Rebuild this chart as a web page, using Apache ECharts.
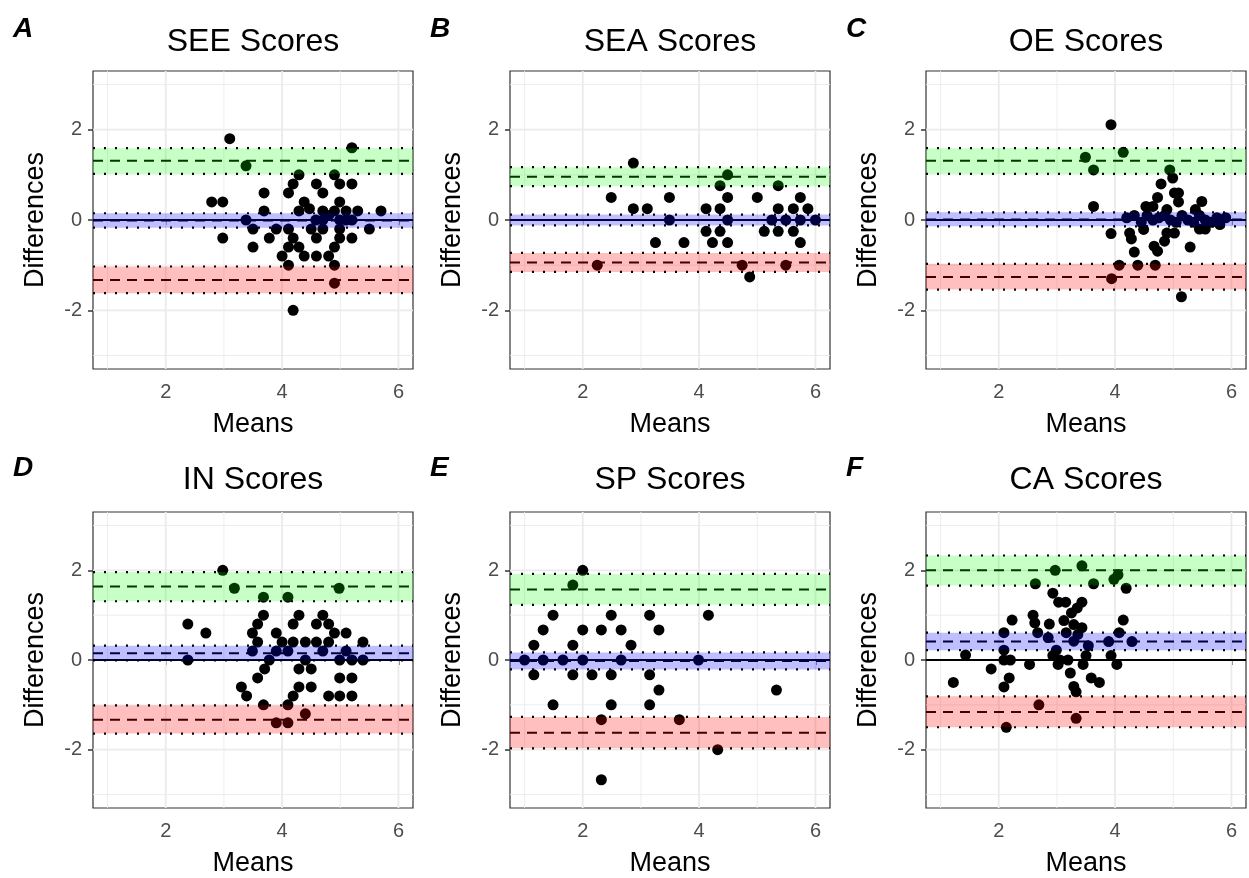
<!DOCTYPE html>
<html>
<head>
<meta charset="utf-8">
<title>Bland-Altman plots</title>
<script src="https://cdn.jsdelivr.net/npm/echarts@6/dist/echarts.min.js"></script>
<style>
  html, body { margin: 0; padding: 0; background: #fff; }
  #chart { width: 1249px; height: 878px; }
</style>
</head>
<body>
<div id="chart"></div>
<script>
// ---- data ----
const panelTitles = ['SEE Scores', 'SEA Scores', 'OE Scores', 'IN Scores', 'SP Scores', 'CA Scores'];
const panelLetters = ['A', 'B', 'C', 'D', 'E', 'F'];
const xTicks = [2, 4, 6];
const yTicks = [-2, 0, 2];
const xGridVals = [1, 2, 3, 4, 5, 6];
const yGridVals = [-3, -2, -1, 0, 1, 2, 3];

// bias (mean difference) and its CI
const meanBias = [-0.01, 0.0, 0.01, 0.15, -0.02, 0.41];
const meanBiasCI = [[-0.17, 0.15], [-0.12, 0.12], [-0.14, 0.17], [-0.01, 0.32], [-0.21, 0.17], [0.22, 0.61]];
// upper limit of agreement and its CI
const upperLoA = [1.31, 0.96, 1.31, 1.64, 1.57, 2.0];
const upperLoACI = [[1.02, 1.59], [0.75, 1.17], [1.02, 1.59], [1.31, 1.96], [1.23, 1.92], [1.66, 2.33]];
// lower limit of agreement and its CI
const lowerLoA = [-1.33, -0.94, -1.26, -1.33, -1.62, -1.16];
const lowerLoACI = [[-1.62, -1.03], [-1.15, -0.73], [-1.54, -0.97], [-1.64, -1.01], [-1.97, -1.27], [-1.50, -0.81]];

// points: [means, differences]
const seePoints = [
  [3.10, 1.8], [5.2, 1.6], [3.38, 1.2], [4.29, 1.0], [4.9, 1.0],
  [4.19, 0.8], [4.59, 0.8], [4.99, 0.8], [5.2, 0.8],
  [3.69, 0.6], [4.11, 0.6], [4.7, 0.6],
  [2.79, 0.4], [2.98, 0.4], [4.38, 0.4], [4.99, 0.4],
  [3.69, 0.2], [4.29, 0.2], [4.47, 0.25], [4.7, 0.2], [4.9, 0.2], [5.1, 0.2], [5.3, 0.2], [5.7, 0.2],
  [3.38, 0], [4.58, 0], [4.7, 0], [4.99, 0], [5.1, 0], [5.2, 0], [4.8, 0.1],
  [3.5, -0.2], [3.9, -0.2], [4.11, -0.2], [4.5, -0.2], [4.7, -0.2], [4.99, -0.2], [5.5, -0.2],
  [2.98, -0.4], [3.78, -0.4], [4.19, -0.4], [4.59, -0.4], [4.99, -0.4], [5.2, -0.4],
  [3.5, -0.6], [4.11, -0.6], [4.29, -0.6], [4.9, -0.6],
  [4.0, -0.8], [4.38, -0.8], [4.59, -0.8], [4.8, -0.8],
  [4.11, -1.0], [4.9, -1.0], [4.9, -1.4], [4.19, -2.0]
];
const seaPoints = [
  [2.87, 1.26], [4.49, 1.0], [4.36, 0.76], [5.36, 0.76],
  [2.49, 0.5], [3.49, 0.5], [4.49, 0.5], [5.0, 0.5], [5.74, 0.5],
  [2.87, 0.25], [3.11, 0.25], [4.12, 0.25], [4.36, 0.25], [5.36, 0.25], [5.62, 0.25], [5.87, 0.25],
  [3.49, 0], [4.49, 0], [5.25, 0], [5.49, 0], [5.74, 0], [6.0, 0],
  [4.12, -0.25], [4.36, -0.25], [5.12, -0.25], [5.36, -0.25], [5.62, -0.25],
  [3.25, -0.5], [3.74, -0.5], [4.23, -0.5], [4.49, -0.5], [5.74, -0.5],
  [2.25, -1.0], [4.74, -1.0], [5.49, -1.0], [4.87, -1.26]
];
const oePoints = [
  [3.93, 2.11], [3.49, 1.39], [4.14, 1.5], [3.63, 1.11], [4.94, 1.11],
  [4.99, 0.93], [4.79, 0.8], [5.02, 0.6], [5.09, 0.6], [4.73, 0.5], [5.09, 0.4], [5.49, 0.41],
  [4.53, 0.3], [4.65, 0.3], [3.63, 0.3], [4.89, 0.23], [5.38, 0.23],
  [4.2, 0.05], [4.33, 0.1], [4.45, -0.05], [4.55, 0.1], [4.65, 0], [4.75, 0.05], [4.85, 0.1],
  [4.95, 0], [5.05, -0.05], [5.15, 0.1], [5.25, 0], [5.35, -0.05], [5.45, 0.1], [5.55, 0],
  [5.65, -0.05], [5.75, 0.05], [5.9, 0.05], [5.45, -0.2], [5.55, -0.2], [5.8, -0.1],
  [3.93, -0.3], [4.25, -0.29], [4.28, -0.42], [4.49, -0.21], [4.89, -0.29], [5.02, -0.29],
  [4.85, -0.47], [4.67, -0.58], [4.73, -0.69], [4.33, -0.71], [5.29, -0.6],
  [4.07, -1.0], [4.39, -1.0], [4.69, -1.0], [3.94, -1.3], [5.14, -1.7]
];
const inPoints = [
  [2.98, 2.0], [3.18, 1.6], [4.98, 1.6], [3.68, 1.4], [4.1, 1.4],
  [3.68, 1.0], [4.29, 1.0], [4.7, 1.0],
  [2.38, 0.8], [3.58, 0.8], [4.19, 0.8], [4.59, 0.8], [4.8, 0.8],
  [2.69, 0.6], [3.49, 0.6], [3.9, 0.6], [4.9, 0.6], [5.1, 0.6],
  [3.58, 0.4], [4.0, 0.4], [4.19, 0.4], [4.4, 0.4], [4.59, 0.4], [4.8, 0.4], [5.39, 0.4],
  [3.49, 0.2], [3.9, 0.2], [4.1, 0.2], [4.7, 0.2], [5.1, 0.2],
  [2.38, 0.0], [3.78, 0.0], [4.4, 0], [4.99, 0], [5.2, 0], [5.39, 0],
  [3.7, -0.2], [4.29, -0.2], [4.5, -0.2],
  [3.58, -0.4], [4.99, -0.4], [5.2, -0.4],
  [3.3, -0.6], [4.29, -0.6], [4.5, -0.6],
  [3.39, -0.8], [4.19, -0.8], [4.8, -0.8], [4.99, -0.8], [5.2, -0.8],
  [3.68, -1.0], [4.1, -1.0], [4.4, -1.2], [3.9, -1.4], [4.1, -1.4]
];
const spPoints = [
  [2.0, 2.0], [1.83, 1.67],
  [1.49, 1.0], [2.49, 1.0], [3.15, 1.0], [4.16, 1.0],
  [1.32, 0.67], [2.0, 0.67], [2.32, 0.67], [2.66, 0.67], [3.31, 0.67],
  [1.16, 0.33], [1.83, 0.33], [2.83, 0.33],
  [1.0, 0], [1.32, 0], [1.66, 0], [2.0, 0], [2.66, 0], [3.99, 0],
  [1.16, -0.33], [1.83, -0.33], [2.16, -0.33], [2.49, -0.33], [3.15, -0.33],
  [3.31, -0.67], [5.33, -0.67],
  [1.49, -1.0], [2.49, -1.0], [3.15, -1.0],
  [2.32, -1.33], [3.66, -1.33], [4.32, -2.0], [2.32, -2.67]
];
const caPoints = [
  [3.43, 2.1], [2.97, 2.0], [2.63, 1.7], [3.63, 1.7], [3.98, 1.8], [4.05, 1.9], [4.19, 1.6],
  [2.93, 1.49], [3.03, 1.29], [3.15, 1.29], [3.43, 1.29], [3.35, 1.16], [3.25, 1.05],
  [2.59, 1.0], [2.23, 0.89], [2.62, 0.83], [2.87, 0.8], [3.12, 0.88], [4.14, 0.89],
  [3.29, 0.79], [3.43, 0.72],
  [2.09, 0.61], [2.67, 0.61], [2.85, 0.5], [3.16, 0.61], [3.29, 0.42], [3.36, 0.57],
  [4.07, 0.61], [3.89, 0.41], [4.29, 0.41], [3.54, 0.32], [2.09, 0.22], [2.99, 0.22],
  [1.43, 0.11], [2.09, 0.0], [2.2, 0.0], [2.93, 0.1], [3.05, 0], [3.19, 0], [3.5, 0.1], [3.93, 0.1],
  [2.53, -0.1], [3.02, -0.1], [3.45, -0.1], [4.03, -0.1],
  [1.87, -0.2], [3.23, -0.29], [2.18, -0.4], [3.59, -0.4], [3.73, -0.5], [1.22, -0.5],
  [2.09, -0.6], [3.29, -0.59], [3.33, -0.71],
  [2.69, -1.0], [3.33, -1.3], [2.13, -1.5]
];
const allPoints = [seePoints, seaPoints, oePoints, inPoints, spPoints, caPoints];

// ---- layout ----
const X_MIN = 0.75, X_MAX = 6.25;
const Y_MIN = -3.3, Y_MAX = 3.3;
const colLeft = [93, 510, 926];
const rowTop = [71, 512];
const plotW = 320, plotH = 298;
const FONT = "'Liberation Sans', Arial, Helvetica, sans-serif";
const bandColors = ['rgba(0,255,0,0.22)', 'rgba(0,0,255,0.25)', 'rgba(255,0,0,0.25)'];

const chart = echarts.init(document.getElementById('chart'));

function gridItem(params, api) {
  const v = api.value(0), orient = api.value(1), major = api.value(2);
  const a = orient === 0 ? api.coord([v, Y_MIN]) : api.coord([X_MIN, v]);
  const b = orient === 0 ? api.coord([v, Y_MAX]) : api.coord([X_MAX, v]);
  return {
    type: 'line',
    shape: { x1: a[0], y1: a[1], x2: b[0], y2: b[1] },
    style: { stroke: '#ebebeb', lineWidth: major ? 1.8 : 0.9 }
  };
}

function hLineItem(params, api) {
  const v = api.value(0), kind = api.value(1);
  const a = api.coord([X_MIN, v]), b = api.coord([X_MAX, v]);
  let style = { stroke: '#000', lineWidth: 1.8 };
  if (kind === 1) style = { stroke: '#000', lineWidth: 2, lineDash: [10, 7] };
  if (kind === 2) style = { stroke: '#000', lineWidth: 2.2, lineDash: [2, 9] };
  return { type: 'line', shape: { x1: a[0], y1: a[1], x2: b[0], y2: b[1] }, style: style };
}

function bandItem(params, api) {
  const lo = api.value(0), hi = api.value(1), c = api.value(2);
  const a = api.coord([X_MIN, hi]), b = api.coord([X_MAX, lo]);
  return {
    type: 'rect',
    shape: { x: a[0], y: a[1], width: b[0] - a[0], height: b[1] - a[1] },
    style: { fill: bandColors[c] }
  };
}

const grids = [], xAxes = [], yAxes = [], series = [], graphics = [];
for (let i = 0; i < 6; i++) {
  const col = i % 3, row = Math.floor(i / 3);
  const left = colLeft[col], top = rowTop[row];
  grids.push({
    left: left, top: top, width: plotW, height: plotH,
    show: true, borderColor: '#333333', borderWidth: 1.2, backgroundColor: '#fff'
  });
  xAxes.push({
    type: 'value', gridIndex: i, min: X_MIN, max: X_MAX,
    name: 'Means', nameLocation: 'middle', nameGap: 42,
    nameTextStyle: { fontSize: 27, color: '#000', fontFamily: FONT },
    axisLine: { show: false },
    splitLine: { show: false },
    axisTick: { show: true, customValues: xTicks, length: 5, lineStyle: { color: '#333', width: 1.5 } },
    axisLabel: {
      customValues: xTicks, margin: 13, fontSize: 20, color: '#4d4d4d', fontFamily: FONT,
      formatter: v => (xTicks.indexOf(v) >= 0 ? String(v) : '')
    }
  });
  yAxes.push({
    type: 'value', gridIndex: i, min: Y_MIN, max: Y_MAX,
    name: 'Differences', nameLocation: 'middle', nameGap: 44, nameRotate: 90,
    nameTextStyle: { fontSize: 27, color: '#000', fontFamily: FONT },
    axisLine: { show: false },
    splitLine: { show: false },
    axisTick: { show: true, customValues: yTicks, length: 5, lineStyle: { color: '#333', width: 1.5 } },
    axisLabel: {
      customValues: yTicks, margin: 11, fontSize: 20, color: '#4d4d4d', fontFamily: FONT,
      formatter: v => (yTicks.indexOf(v) >= 0 ? String(v) : '')
    }
  });

  const gridData = xGridVals.map(v => [v, 0, v % 2 === 0 ? 1 : 0])
    .concat(yGridVals.map(v => [v, 1, v % 2 === 0 ? 1 : 0]));
  series.push({
    type: 'custom', xAxisIndex: i, yAxisIndex: i, z: 1, silent: true,
    renderItem: gridItem, data: gridData
  });
  series.push({
    type: 'custom', xAxisIndex: i, yAxisIndex: i, z: 2, silent: true,
    renderItem: hLineItem,
    data: [[0, 0], [meanBias[i], 1], [upperLoA[i], 1], [lowerLoA[i], 1]]
  });
  series.push({
    type: 'scatter', xAxisIndex: i, yAxisIndex: i, z: 3,
    symbol: 'circle', symbolSize: 11,
    itemStyle: { color: '#000', opacity: 1 },
    data: allPoints[i]
  });
  series.push({
    type: 'custom', xAxisIndex: i, yAxisIndex: i, z: 4, silent: true,
    renderItem: bandItem,
    data: [
      [upperLoACI[i][0], upperLoACI[i][1], 0],
      [meanBiasCI[i][0], meanBiasCI[i][1], 1],
      [lowerLoACI[i][0], lowerLoACI[i][1], 2]
    ]
  });
  series.push({
    type: 'custom', xAxisIndex: i, yAxisIndex: i, z: 5, silent: true,
    renderItem: hLineItem,
    data: [
      [upperLoACI[i][0], 2], [upperLoACI[i][1], 2],
      [meanBiasCI[i][0], 2], [meanBiasCI[i][1], 2],
      [lowerLoACI[i][0], 2], [lowerLoACI[i][1], 2]
    ]
  });

  graphics.push({
    type: 'text', x: left + plotW / 2, y: 42 + row * 438,
    style: {
      text: panelTitles[i], fontSize: 32, fontFamily: FONT, fill: '#000',
      align: 'center', verticalAlign: 'middle', textAlign: 'center', textVerticalAlign: 'middle'
    }
  });
  graphics.push({
    type: 'text', x: [13, 430, 846][col], y: 29 + row * 439,
    style: {
      text: panelLetters[i], fontSize: 28, fontWeight: 'bold', fontStyle: 'italic', fontFamily: FONT, fill: '#000',
      align: 'left', verticalAlign: 'middle', textAlign: 'left', textVerticalAlign: 'middle'
    }
  });
}

const option = {
  backgroundColor: '#fff',
  animation: false,
  grid: grids,
  xAxis: xAxes,
  yAxis: yAxes,
  series: series,
  graphic: { elements: graphics }
};
chart.setOption(option);
</script>
</body>
</html>
